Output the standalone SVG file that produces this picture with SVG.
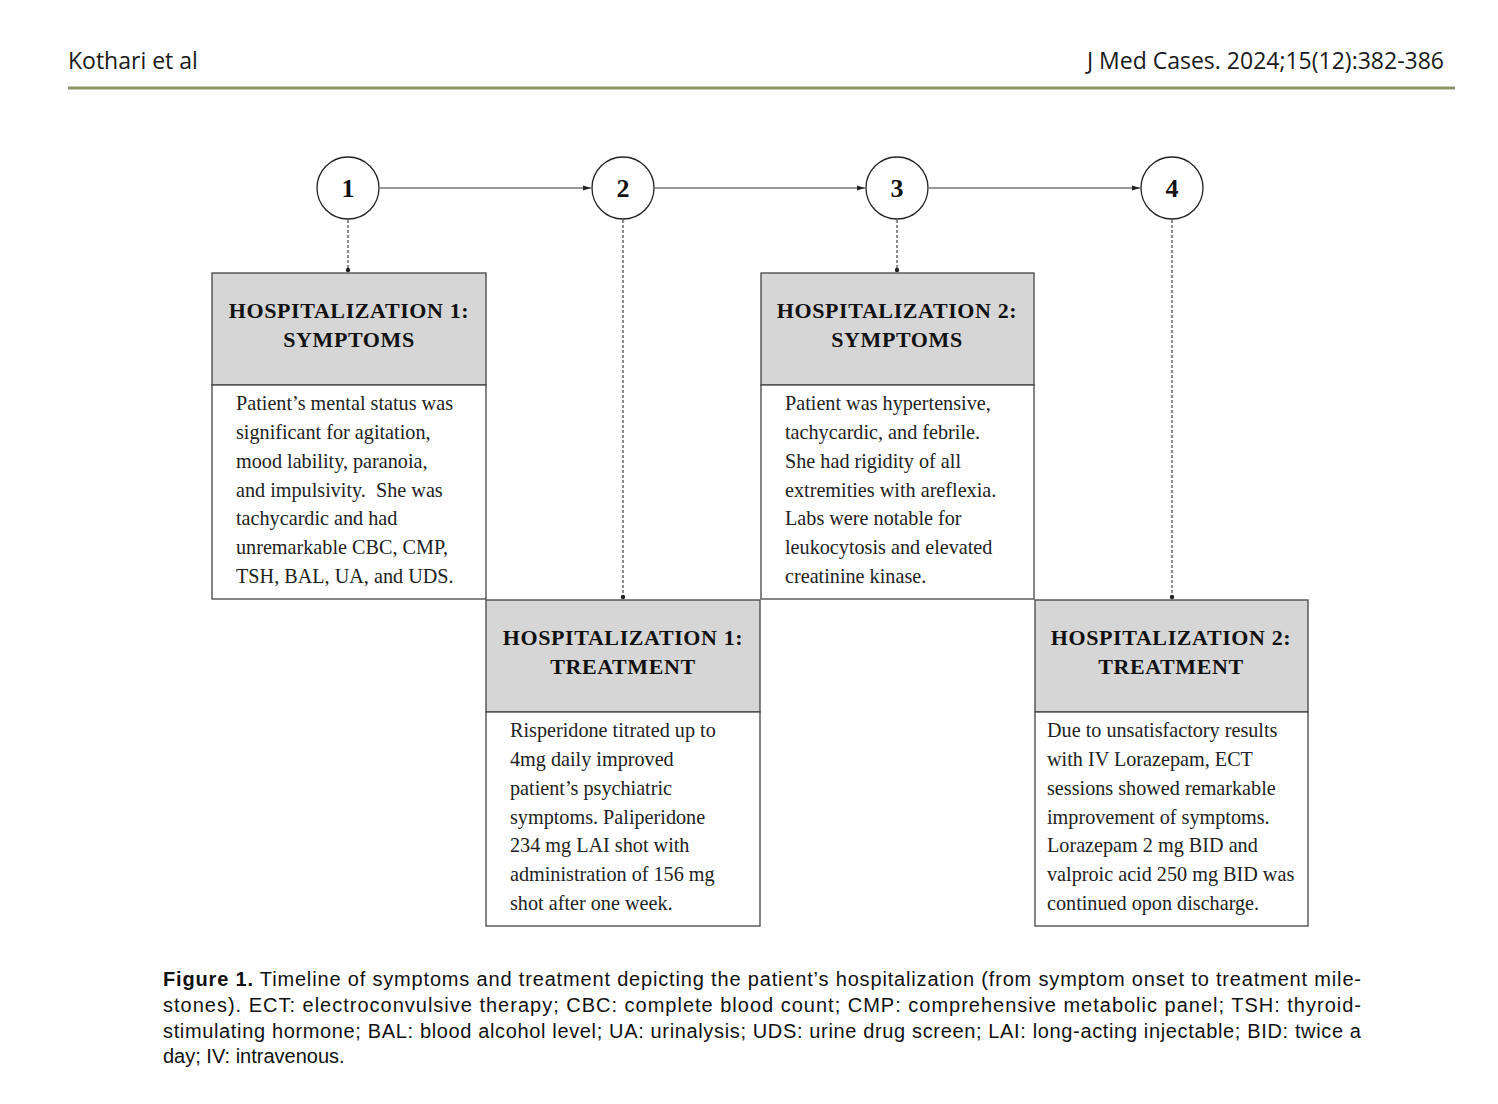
<svg xmlns="http://www.w3.org/2000/svg" width="1498" height="1104" viewBox="0 0 1498 1104">
<defs>
<style>
.hdr{font-family:"Open Sans","Liberation Sans",sans-serif;font-size:23px;fill:#1a1a1a}
.num{font-family:"Liberation Serif",serif;font-weight:bold;font-size:26px;fill:#111;text-anchor:middle}
.ht{font-family:"Liberation Serif",serif;font-weight:bold;font-size:22px;fill:#111;text-anchor:middle;letter-spacing:0.6px}
.bt{font-family:"Liberation Serif",serif;font-size:20.2px;fill:#222}
.cap{font-family:"Liberation Sans",Arial,sans-serif;font-size:20px;fill:#111}
.circ{fill:#fff;stroke:#222;stroke-width:1.3}
.head{fill:#d6d6d6;stroke:#444;stroke-width:1.3}
.body{fill:#fff;stroke:#444;stroke-width:1.3}
.solid{stroke:#333;stroke-width:1.2;fill:none}
.dash{stroke:#444;stroke-width:1.2;stroke-dasharray:3 2;fill:none}
</style>
<marker id="arr" markerWidth="8" markerHeight="6" refX="8" refY="3" orient="auto" markerUnits="userSpaceOnUse">
<path d="M0,0.5 L8,3 L0,5.5 Z" fill="#222"/>
</marker>
<marker id="dot" markerWidth="6" markerHeight="6" refX="3" refY="3" markerUnits="userSpaceOnUse">
<circle cx="3" cy="3" r="2.2" fill="#222"/>
</marker>
</defs>
<rect width="1498" height="1104" fill="#fff"/>

<g id="page-header">
<text class="hdr" x="68" y="69">Kothari et al</text>
<text class="hdr" x="1444" y="69" text-anchor="end">J Med Cases. 2024;15(12):382-386</text>
<rect x="68" y="86.5" width="1387" height="3" fill="#8e9166"/>
</g>

<g id="connectors">
<line class="solid" x1="380" y1="188" x2="591" y2="188" marker-end="url(#arr)"/>
<line class="solid" x1="655" y1="188" x2="865" y2="188" marker-end="url(#arr)"/>
<line class="solid" x1="929" y1="188" x2="1140" y2="188" marker-end="url(#arr)"/>
<line class="dash" x1="348" y1="220" x2="348" y2="270" marker-end="url(#dot)"/>
<line class="dash" x1="623" y1="220" x2="623" y2="597" marker-end="url(#dot)"/>
<line class="dash" x1="897" y1="220" x2="897" y2="270" marker-end="url(#dot)"/>
<line class="dash" x1="1172" y1="220" x2="1172" y2="597" marker-end="url(#dot)"/>
</g>

<g id="step1"><circle class="circ" cx="348" cy="188" r="31"/><text class="num" x="348" y="197">1</text></g>
<g id="step2"><circle class="circ" cx="623" cy="188" r="31"/><text class="num" x="623" y="197">2</text></g>
<g id="step3"><circle class="circ" cx="897" cy="188" r="31"/><text class="num" x="897" y="197">3</text></g>
<g id="step4"><circle class="circ" cx="1172" cy="188" r="31"/><text class="num" x="1172" y="197">4</text></g>

<g id="hosp1-symptoms">
<rect class="head" x="212" y="273" width="274" height="112"/>
<rect class="body" x="212" y="385" width="274" height="214"/>
<text class="ht" x="349" y="318">HOSPITALIZATION 1:</text>
<text class="ht" x="349" y="347">SYMPTOMS</text>
<text class="bt" x="236" y="410">Patient’s mental status was</text>
<text class="bt" x="236" y="439">significant for agitation,</text>
<text class="bt" x="236" y="468">mood lability, paranoia,</text>
<text class="bt" x="236" y="497" xml:space="preserve">and impulsivity.  She was</text>
<text class="bt" x="236" y="525">tachycardic and had</text>
<text class="bt" x="236" y="554">unremarkable CBC, CMP,</text>
<text class="bt" x="236" y="583">TSH, BAL, UA, and UDS.</text>
</g>

<g id="hosp1-treatment">
<rect class="head" x="486" y="600" width="274" height="112"/>
<rect class="body" x="486" y="712" width="274" height="214"/>
<text class="ht" x="623" y="645">HOSPITALIZATION 1:</text>
<text class="ht" x="623" y="674">TREATMENT</text>
<text class="bt" x="510" y="737">Risperidone titrated up to</text>
<text class="bt" x="510" y="766">4mg daily improved</text>
<text class="bt" x="510" y="795">patient’s psychiatric</text>
<text class="bt" x="510" y="824">symptoms. Paliperidone</text>
<text class="bt" x="510" y="852">234 mg LAI shot with</text>
<text class="bt" x="510" y="881">administration of 156 mg</text>
<text class="bt" x="510" y="910">shot after one week.</text>
</g>

<g id="hosp2-symptoms">
<rect class="head" x="761" y="273" width="273" height="112"/>
<rect class="body" x="761" y="385" width="273" height="214"/>
<text class="ht" x="897" y="318">HOSPITALIZATION 2:</text>
<text class="ht" x="897" y="347">SYMPTOMS</text>
<text class="bt" x="785" y="410">Patient was hypertensive,</text>
<text class="bt" x="785" y="439">tachycardic, and febrile.</text>
<text class="bt" x="785" y="468">She had rigidity of all</text>
<text class="bt" x="785" y="497">extremities with areflexia.</text>
<text class="bt" x="785" y="525">Labs were notable for</text>
<text class="bt" x="785" y="554">leukocytosis and elevated</text>
<text class="bt" x="785" y="583">creatinine kinase.</text>
</g>

<g id="hosp2-treatment">
<rect class="head" x="1035" y="600" width="273" height="112"/>
<rect class="body" x="1035" y="712" width="273" height="214"/>
<text class="ht" x="1171" y="645">HOSPITALIZATION 2:</text>
<text class="ht" x="1171" y="674">TREATMENT</text>
<text class="bt" x="1047" y="737">Due to unsatisfactory results</text>
<text class="bt" x="1047" y="766">with IV Lorazepam, ECT</text>
<text class="bt" x="1047" y="795">sessions showed remarkable</text>
<text class="bt" x="1047" y="824">improvement of symptoms.</text>
<text class="bt" x="1047" y="852">Lorazepam 2 mg BID and</text>
<text class="bt" x="1047" y="881">valproic acid 250 mg BID was</text>
<text class="bt" x="1047" y="910">continued opon discharge.</text>
</g>

<g id="caption">
<text class="cap" x="163" y="986" textLength="1198" lengthAdjust="spacing"><tspan font-weight="bold">Figure 1.</tspan> Timeline of symptoms and treatment depicting the patient’s hospitalization (from symptom onset to treatment mile-</text>
<text class="cap" x="163" y="1012" textLength="1198" lengthAdjust="spacing">stones). ECT: electroconvulsive therapy; CBC: complete blood count; CMP: comprehensive metabolic panel; TSH: thyroid-</text>
<text class="cap" x="163" y="1038" textLength="1198" lengthAdjust="spacing">stimulating hormone; BAL: blood alcohol level; UA: urinalysis; UDS: urine drug screen; LAI: long-acting injectable; BID: twice a</text>
<text class="cap" x="163" y="1063">day; IV: intravenous.</text>
</g>
</svg>
